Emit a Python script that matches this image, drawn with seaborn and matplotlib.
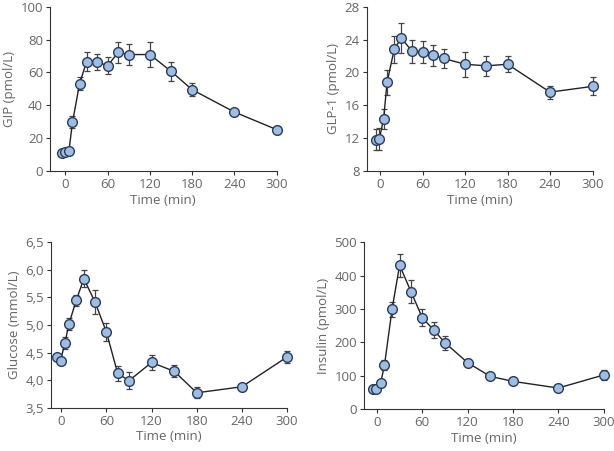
import numpy as np
import pandas as pd
import matplotlib
matplotlib.use('Agg')
import matplotlib.pyplot as plt
import matplotlib.ticker as mticker
import seaborn as sns

# sampling times (min)
time = [-5, -1, 5, 10, 20, 30, 45, 60, 75, 90, 120, 150, 180, 240, 300]

gip = [11.2, 11.5, 12.4, 29.7, 53.0, 66.6, 66.4, 64.1, 72.3, 70.9, 70.9, 60.7, 49.5, 35.9, 25.2]
gip_err = [1.0, 1.0, 1.5, 3.5, 4.0, 6.0, 5.0, 5.0, 6.5, 6.5, 7.5, 5.7, 4.0, 1.5, 1.5]

glp1 = [11.8, 11.9, 14.3, 18.8, 22.8, 24.2, 22.6, 22.5, 22.1, 21.7, 21.0, 20.8, 21.0, 17.6, 18.3]
glp1_err = [1.3, 1.3, 1.2, 1.5, 1.6, 1.8, 1.4, 1.3, 1.3, 1.1, 1.5, 1.2, 1.0, 0.8, 1.1]

glucose = [4.42, 4.35, 4.68, 5.01, 5.45, 5.84, 5.41, 4.87, 4.12, 3.99, 4.32, 4.16, 3.77, 3.88, 4.42]
glucose_err = [0.05, 0.05, 0.11, 0.11, 0.10, 0.15, 0.22, 0.16, 0.14, 0.15, 0.14, 0.11, 0.10, 0.05, 0.11]

insulin = [59, 59, 79, 132, 299, 431, 352, 274, 237, 199, 139, 98, 83, 63, 102]
insulin_err = [5, 5, 6, 15, 23, 34, 35, 26, 25, 21, 10, 5, 5, 5, 16]

sns.set_style('ticks')
plt.rcParams['font.family'] = ['Open Sans', 'DejaVu Sans']

grey = '#666666'
fig = plt.figure(figsize=(6.14, 4.51), dpi=100)

panels = [
    # (rect, y, err, ylabel, ylim, yticks, xmin, comma)
    ([0.0814, 0.621, 0.369, 0.364], gip, gip_err, 'GIP (pmol/L)', (0, 100), np.arange(0, 101, 20), -22, False),
    ([0.597, 0.621, 0.368, 0.364], glp1, glp1_err, 'GLP-1 (pmol/L)', (8, 28), np.arange(8, 29, 4), -19, False),
    ([0.0826, 0.096, 0.385, 0.367], glucose, glucose_err, 'Glucose (mmol/L)', (3.5, 6.5), np.arange(3.5, 6.51, 0.5), -14, True),
    ([0.593, 0.093, 0.390, 0.370], insulin, insulin_err, 'Insulin (pmol/L)', (0, 500), np.arange(0, 501, 100), -17, False),
]

for rect, vals, err, ylab, ylim, yticks, xmin, comma in panels:
    ax = fig.add_axes(rect)
    df = pd.DataFrame({'Time': time, 'val': vals, 'err': err})
    ax.errorbar(df['Time'], df['val'], yerr=df['err'], fmt='none',
                ecolor='#444444', elinewidth=0.9, capsize=2.5, capthick=0.9,
                zorder=2, clip_on=False)
    sns.lineplot(data=df, x='Time', y='val', ax=ax, color='#222222', linewidth=1.0,
                 marker='o', markersize=7, markerfacecolor='#9dbde3',
                 markeredgecolor='#2b3b5a', markeredgewidth=1.0, zorder=3, clip_on=False)
    ax.set_xlim(xmin, 300)
    ax.set_ylim(*ylim)
    ax.set_xticks([0, 60, 120, 180, 240, 300])
    ax.set_yticks(yticks)
    if comma:
        ax.yaxis.set_major_formatter(mticker.FuncFormatter(lambda v, p: f'{v:.1f}'.replace('.', ',')))
    ax.set_xlabel('Time (min)', fontsize=9.5, color=grey, labelpad=2)
    ax.set_ylabel(ylab, fontsize=9.5, color=grey, labelpad=3)
    ax.tick_params(labelsize=9.5, colors='#333333', labelcolor=grey, length=3, width=0.8, pad=2)
    for s in ['top', 'right']:
        ax.spines[s].set_visible(False)
    for s in ['left', 'bottom']:
        ax.spines[s].set_color('#333333')
        ax.spines[s].set_linewidth(0.8)

fig.savefig('out.png', dpi=100)
